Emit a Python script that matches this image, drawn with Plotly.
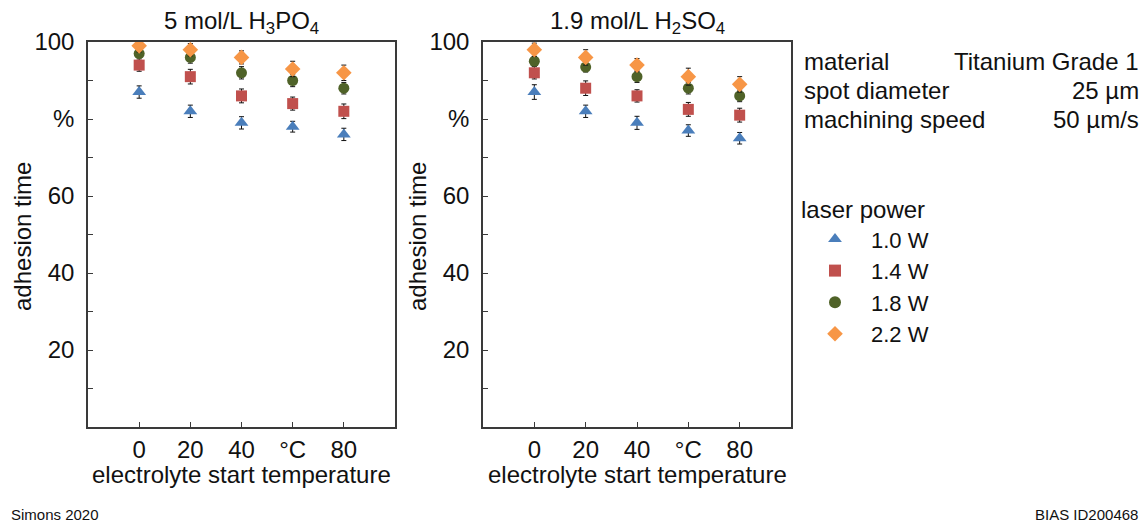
import plotly.graph_objects as go

# ---------------- data ----------------
temperatures = [0, 20, 40, 60, 80]
x_tick_text = ["0", "20", "40", "°C", "80"]
y_tick_vals = [20, 40, 60, 80, 100]
y_tick_text = ["20", "40", "60", "%", "100"]
y_minor_vals = [10, 30, 50, 70, 90]

powers = ["1.0 W", "1.4 W", "1.8 W", "2.2 W"]

# 5 mol/L H3PO4 : adhesion time in %
h3po4_10 = [87, 82, 79, 78, 76]
h3po4_14 = [94, 91, 86, 84, 82]
h3po4_18 = [97, 96, 92, 90, 88]
h3po4_22 = [99, 98, 96, 93, 92]
h3po4_10_err = [1.6, 1.6, 1.6, 1.4, 1.6]
h3po4_14_err = [1.6, 1.9, 1.8, 1.7, 1.9]
h3po4_18_err = [1.0, 1.5, 1.6, 1.6, 1.5]
h3po4_22_err = [1.6, 1.6, 1.7, 2.0, 2.0]

# 1.9 mol/L H2SO4 : adhesion time in %
h2so4_10 = [87, 82, 79, 77, 75]
h2so4_14 = [92, 88, 86, 82.5, 81]
h2so4_18 = [95, 93.5, 91, 88, 86]
h2so4_22 = [98, 96, 94, 91, 89]
h2so4_10_err = [1.9, 1.6, 1.7, 1.5, 1.5]
h2so4_14_err = [1.6, 1.9, 1.6, 1.8, 1.8]
h2so4_18_err = [1.2, 1.3, 1.5, 1.5, 1.5]
h2so4_22_err = [1.7, 2.0, 1.7, 2.2, 2.0]

# ---------------- style ----------------
FONT = "Arial, 'Liberation Sans', sans-serif"
colors = ["#4a7ebb", "#c0504d", "#4f6228", "#f79646"]
symbols = ["triangle-up", "square", "circle", "diamond"]
sizes = [12, 11, 11, 12]
AX = "#3a3a3a"

# the page body adds an 8 px margin; lay the figure out in page pixels
PAGE_W, PAGE_H = 1147, 523
OFF = 8
W, H = PAGE_W - OFF, PAGE_H - OFF


def px_x(p):
    return (p - OFF) / W


def px_y(p):
    return 1 - (p - OFF) / H


fig = go.Figure()

panels = [
    ("x", "y", [h3po4_10, h3po4_14, h3po4_18, h3po4_22],
     [h3po4_10_err, h3po4_14_err, h3po4_18_err, h3po4_22_err]),
    ("x2", "y2", [h2so4_10, h2so4_14, h2so4_18, h2so4_22],
     [h2so4_10_err, h2so4_14_err, h2so4_18_err, h2so4_22_err]),
]

for pi, (xa, ya, series, errs) in enumerate(panels):
    for i in range(4):
        fig.add_trace(go.Scatter(
            x=temperatures, y=series[i], xaxis=xa, yaxis=ya,
            mode="markers", name=powers[i], showlegend=(pi == 0),
            legendgroup=powers[i],
            marker=dict(symbol=symbols[i], size=sizes[i], color=colors[i],
                        line=dict(width=0)),
            error_y=dict(type="data", array=errs[i], visible=True,
                         color="#111111", thickness=1, width=2.5),
        ))

axis_common = dict(
    showline=True, linecolor=AX, linewidth=1.5, mirror=True,
    showgrid=False, zeroline=False, ticks="inside", ticklen=5,
    tickwidth=1.3, tickcolor=AX,
    tickfont=dict(family=FONT, size=24, color="#111111"),
)

y_top, y_bot = 42, 427
left_dom = [px_x(88), px_x(395)]
right_dom = [px_x(483), px_x(791)]
ydom = [px_y(y_bot), px_y(y_top)]

for suffix, dom in (("", left_dom), ("2", right_dom)):
    fig.layout["xaxis" + suffix] = dict(
        axis_common, domain=dom, range=[-20, 100],
        tickvals=temperatures, ticktext=x_tick_text,
        anchor="y" + suffix, ticklabelstandoff=0,
    )
    fig.layout["yaxis" + suffix] = dict(
        axis_common, domain=ydom, range=[0, 100],
        tickvals=y_tick_vals, ticktext=y_tick_text,
        anchor="x" + suffix, ticklabelstandoff=7,
        minor=dict(tickvals=y_minor_vals, ticks="inside", ticklen=5,
                   tickwidth=1.3, tickcolor=AX),
    )

annotations = []


def add_text(text, x, y, size=24, xanchor="center", yanchor="middle", angle=0):
    annotations.append(dict(
        text=text, x=px_x(x), y=px_y(y), xref="paper", yref="paper",
        showarrow=False, xanchor=xanchor, yanchor=yanchor, textangle=angle,
        font=dict(family=FONT, size=size, color="#111111"),
    ))


# panel titles
add_text("5 mol/L H<sub>3</sub>PO<sub>4</sub>", 241, 22)
add_text("1.9 mol/L H<sub>2</sub>SO<sub>4</sub>", 637, 22)
# axis titles
add_text("adhesion time", 23, 237, angle=-90)
add_text("adhesion time", 418, 237, angle=-90)
add_text("electrolyte start temperature", 241, 474)
add_text("electrolyte start temperature", 637, 474)
# process parameters
params_left = ["material", "spot diameter", "machining speed"]
params_right = ["Titanium Grade 1", "25 µm", "50 µm/s"]
for k, (a, b) in enumerate(zip(params_left, params_right)):
    yy = 62 + 29 * k
    add_text(a, 802, yy, xanchor="left")
    add_text(b, 1141, yy, xanchor="right")
# footers
add_text("Simons 2020", 9, 514, size=15, xanchor="left")
add_text("BIAS ID200468", 1140, 514, size=15, xanchor="right")

fig.update_layout(
    width=W, height=H,
    margin=dict(l=0, r=0, t=0, b=0, autoexpand=False),
    paper_bgcolor="white", plot_bgcolor="white",
    font=dict(family=FONT, size=24, color="#111111"),
    annotations=annotations,
    showlegend=True,
    legend=dict(
        title=dict(text="laser power", font=dict(family=FONT, size=24)),
        x=px_x(799), y=px_y(187), xanchor="left", yanchor="top",
        font=dict(family=FONT, size=22, color="#111111"),
        itemwidth=62, itemsizing="constant",
        bgcolor="rgba(0,0,0,0)", borderwidth=0, tracegroupgap=0,
    ),
)

fig.write_html("out.html")
